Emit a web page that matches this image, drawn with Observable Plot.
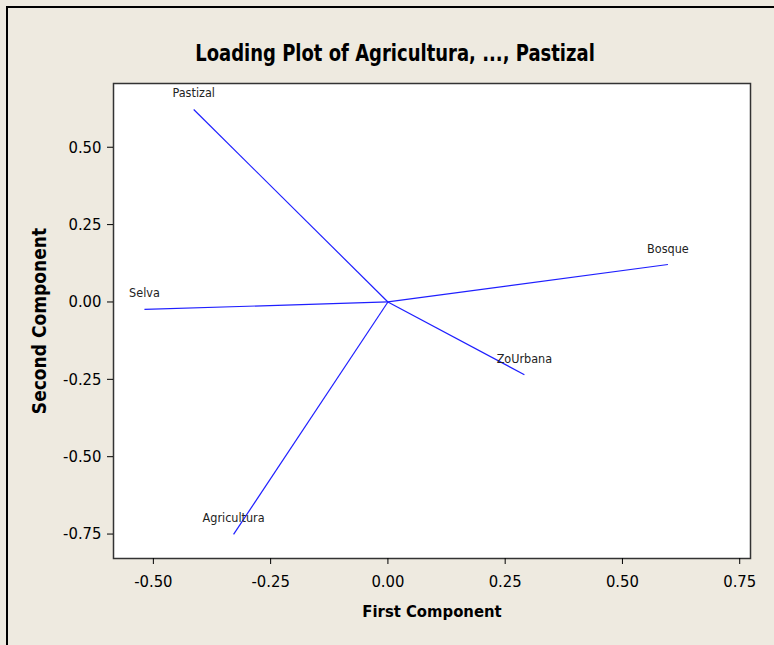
<!DOCTYPE html>
<html>
<head>
<meta charset="utf-8">
<script src="https://cdn.jsdelivr.net/npm/d3@7"></script>
<script src="https://cdn.jsdelivr.net/npm/@observablehq/plot@0.6"></script>
<style>
  html, body { margin: 0; padding: 0; background: #eeeae0; }
  #wrap { position: relative; width: 774px; height: 645px; background: #eeeae0; overflow: hidden; }
  #border { position: absolute; left: 6px; top: 6px; width: 800px; height: 700px; border-left: 2px solid #000; border-top: 2px solid #000; box-sizing: border-box; }
  #title { position: absolute; left: 0; width: 790px; top: 40px; text-align: center;
           font-family: "DejaVu Sans Condensed", "DejaVu Sans", sans-serif; font-weight: bold; font-size: 20px; color: #000;
           transform: scaleY(1.12); transform-origin: center top; }
  #chart { position: absolute; left: 0; top: 0; }
</style>
</head>
<body>
<div id="wrap">
  <div id="border"></div>
  <div id="chart"></div>
  <div id="title">Loading Plot of Agricultura, ..., Pastizal</div>
</div>
<script>
const variables = ["Agricultura", "Selva", "Pastizal", "Bosque", "ZoUrbana"];
const firstComponent = [-0.329, -0.519, -0.414, 0.597, 0.291];
const secondComponent = [-0.751, -0.024, 0.622, 0.121, -0.235];
const xTicks = [-0.50, -0.25, 0.00, 0.25, 0.50, 0.75];
const yTicks = [-0.75, -0.50, -0.25, 0.00, 0.25, 0.50];

const data = variables.map((v, i) => ({name: v, x: firstComponent[i], y: secondComponent[i]}));
const font = "'DejaVu Sans Condensed', 'DejaVu Sans', sans-serif";

const chart = Plot.plot({
  width: 774,
  height: 645,
  marginLeft: 113,
  marginTop: 83,
  marginRight: 24,
  marginBottom: 87,
  style: {background: "transparent", fontFamily: font, color: "#000", overflow: "visible"},
  x: {domain: [-0.585, 0.773]},
  y: {domain: [-0.829, 0.706]},
  marks: [
    Plot.rect([0], {x1: -0.585, x2: 0.773, y1: -0.829, y2: 0.706, fill: "#fff"}),
    Plot.frame({stroke: "#333", strokeWidth: 1.5}),
    Plot.link(data, {x1: 0, y1: 0, x2: "x", y2: "y", stroke: "#1f1fff", strokeWidth: 1.2}),
    Plot.text(data, {x: "x", y: "y", text: "name", dy: -16, fill: "#222", fontSize: 12.5, fontFamily: font}),
    Plot.axisX(xTicks, {tickSize: 6, tickPadding: 11, fontSize: 16.5, tickFormat: d3.format(".2f"),
      label: "First Component", labelAnchor: "center", labelOffset: 58, labelArrow: "none"}),
    Plot.axisY(yTicks, {tickSize: 6, tickPadding: 6, fontSize: 16.5, tickFormat: d3.format(".2f"),
      label: "Second Component", labelAnchor: "center", labelOffset: 81, labelArrow: "none"})
  ]
});
chart.querySelectorAll("g[aria-label='x-axis label'] text").forEach(t => {
  t.setAttribute("font-weight", "bold");
  t.setAttribute("font-size", "16.5");
});
chart.querySelectorAll("g[aria-label='y-axis label'] text").forEach(t => {
  t.setAttribute("font-weight", "bold");
  t.setAttribute("font-size", "19");
});
chart.querySelectorAll("g[aria-label='x-axis tick label'] text, g[aria-label='y-axis tick label'] text").forEach(t => {
  t.textContent = t.textContent.replace("\u2212", "-");
});
document.getElementById("chart").appendChild(chart);
</script>
</body>
</html>
